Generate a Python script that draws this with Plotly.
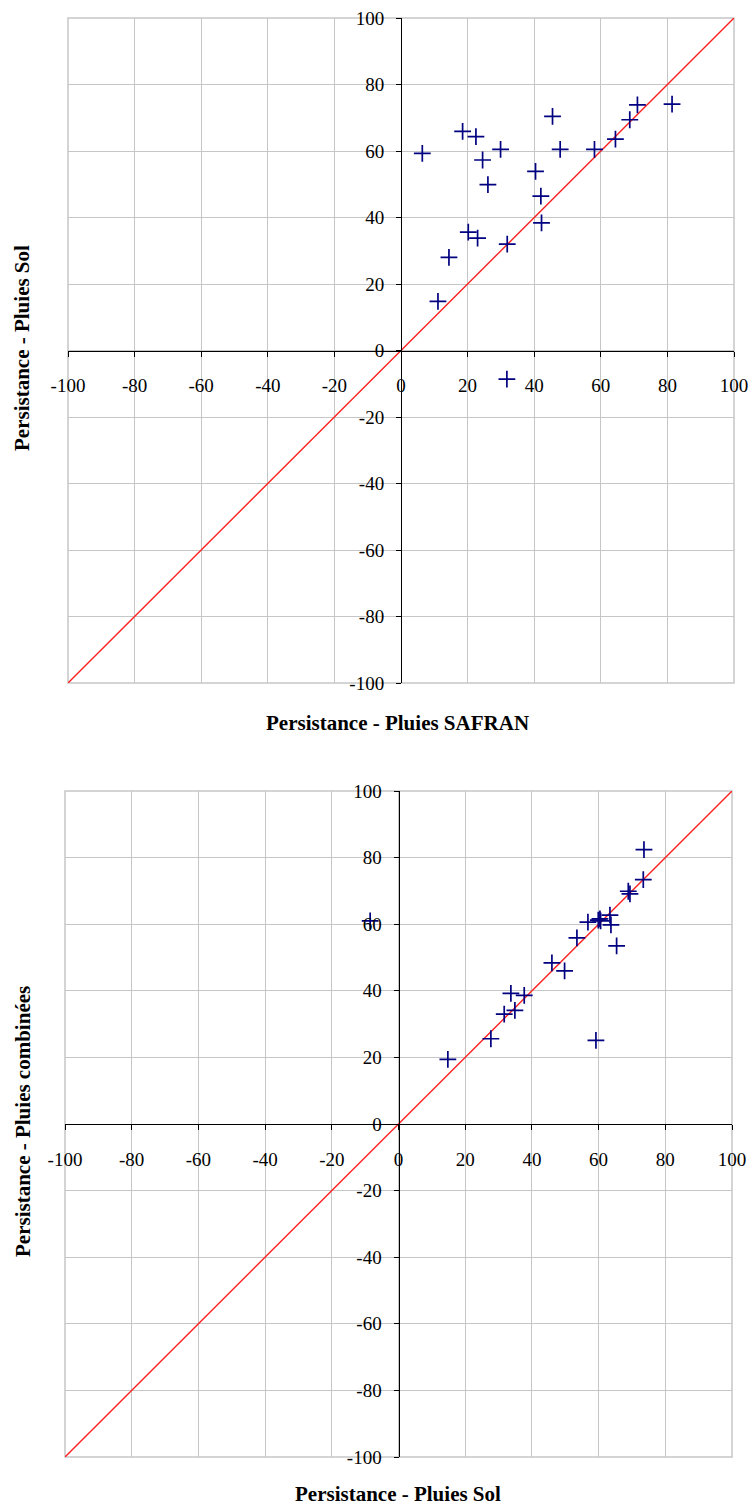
import plotly.graph_objects as go

# ---- data ----
ticks = [-100, -80, -60, -40, -20, 0, 20, 40, 60, 80, 100]
tick_labels = [str(t) for t in ticks]
diag = [-100, 100]

safran_x = [6.4, 18.5, 22.5, 29.9, 24.5, 26.1, 40.4, 42.0, 42.2, 45.5, 47.8,
            58.1, 64.4, 68.7, 71.0, 81.4, 20.2, 23.0, 31.9, 14.4, 11.1, 31.8]
sol_y = [59.3, 65.9, 64.3, 60.5, 57.3, 49.9, 53.9, 46.4, 38.4, 70.4, 60.5,
         60.5, 63.6, 69.4, 73.9, 74.1, 35.6, 33.8, 32.0, 28.0, 14.8, -8.6]

sol_x = [-8.5, 14.8, 27.7, 31.7, 33.7, 34.9, 37.7, 46.0, 49.8, 53.5, 56.8,
         59.2, 59.9, 60.4, 60.6, 63.4, 63.7, 65.4, 68.9, 69.4, 73.4, 73.6]
comb_y = [61.0, 19.4, 25.6, 33.0, 39.2, 34.1, 38.6, 48.4, 46.0, 55.9, 60.6,
          25.1, 61.2, 61.6, 61.0, 62.7, 59.8, 53.5, 69.9, 69.1, 73.4, 82.4]

W, H = 750, 1506
# plot area pixel boxes
top_box = (68, 734, 18, 683)
bot_box = (65, 732, 791, 1457)

def xdom(b):
    return [b[0] / W, b[1] / W]

def ydom(b):
    return [(H - b[3]) / H, (H - b[2]) / H]

FONT = "Liberation Serif"
tickfont = dict(family=FONT, size=19, color="black")
grid = "#c6c6c6"

fig = go.Figure()

for (xs, ys, xa, ya) in [(safran_x, sol_y, "x", "y"), (sol_x, comb_y, "x2", "y2")]:
    fig.add_trace(go.Scatter(x=diag, y=diag, mode="lines",
                             line=dict(color="#ff2020", width=1.4),
                             xaxis=xa, yaxis=ya, hoverinfo="skip"))
    fig.add_trace(go.Scatter(x=xs, y=ys, mode="markers",
                             marker=dict(symbol="cross-thin", size=12,
                                         line=dict(color="#000080", width=1.7),
                                         color="#000080"),
                             xaxis=xa, yaxis=ya))

def xaxis(box):
    yd = ydom(box)
    return dict(domain=xdom(box), range=[-100, 100], anchor="free",
                position=(yd[0] + yd[1]) / 2, automargin=False,
                tickvals=ticks, ticktext=tick_labels, tickfont=tickfont,
                showgrid=True, gridcolor=grid, gridwidth=1, zeroline=False,
                showline=True, linecolor="black", linewidth=1,
                ticks="outside", ticklen=5, tickcolor="black",
                ticklabelstandoff=13, fixedrange=True)

def yaxis(box):
    xd = xdom(box)
    return dict(domain=ydom(box), range=[-100, 100], anchor="free",
                position=(xd[0] + xd[1]) / 2, automargin=False,
                tickvals=ticks, ticktext=tick_labels, tickfont=tickfont,
                showgrid=True, gridcolor=grid, gridwidth=1, zeroline=False,
                showline=True, linecolor="black", linewidth=1,
                ticks="outside", ticklen=5, tickcolor="black",
                ticklabelstandoff=8, fixedrange=True)

titlefont = dict(family=FONT, size=21, color="black")

fig.update_layout(
    width=W, height=H,
    margin=dict(l=0, r=0, t=0, b=0, autoexpand=False),
    paper_bgcolor="white", plot_bgcolor="white",
    showlegend=False,
    xaxis=dict(xaxis(top_box)),
    yaxis=dict(yaxis(top_box)),
    xaxis2=dict(xaxis(bot_box)),
    yaxis2=dict(yaxis(bot_box)),
    shapes=[
        dict(type="rect", xref="paper", yref="paper",
             x0=xdom(b)[0], x1=xdom(b)[1], y0=ydom(b)[0], y1=ydom(b)[1],
             line=dict(color=grid, width=1.5), layer="below")
        for b in (top_box, bot_box)
    ],
    annotations=[
        dict(text="<b>Persistance - Pluies SAFRAN</b>", x=398 / W, y=(H - 723) / H,
             xref="paper", yref="paper", showarrow=False, font=titlefont,
             xanchor="center", yanchor="middle"),
        dict(text="<b>Persistance - Pluies Sol</b>", x=22 / W, y=(H - 348) / H,
             xref="paper", yref="paper", showarrow=False, font=titlefont,
             textangle=-90, xanchor="center", yanchor="middle"),
        dict(text="<b>Persistance - Pluies Sol</b>", x=398 / W, y=(H - 1494) / H,
             xref="paper", yref="paper", showarrow=False, font=titlefont,
             xanchor="center", yanchor="middle"),
        dict(text="<b>Persistance - Pluies combinées</b>", x=23 / W, y=(H - 1122) / H,
             xref="paper", yref="paper", showarrow=False, font=titlefont,
             textangle=-90, xanchor="center", yanchor="middle"),
    ],
)

fig.write_html("out.html")
